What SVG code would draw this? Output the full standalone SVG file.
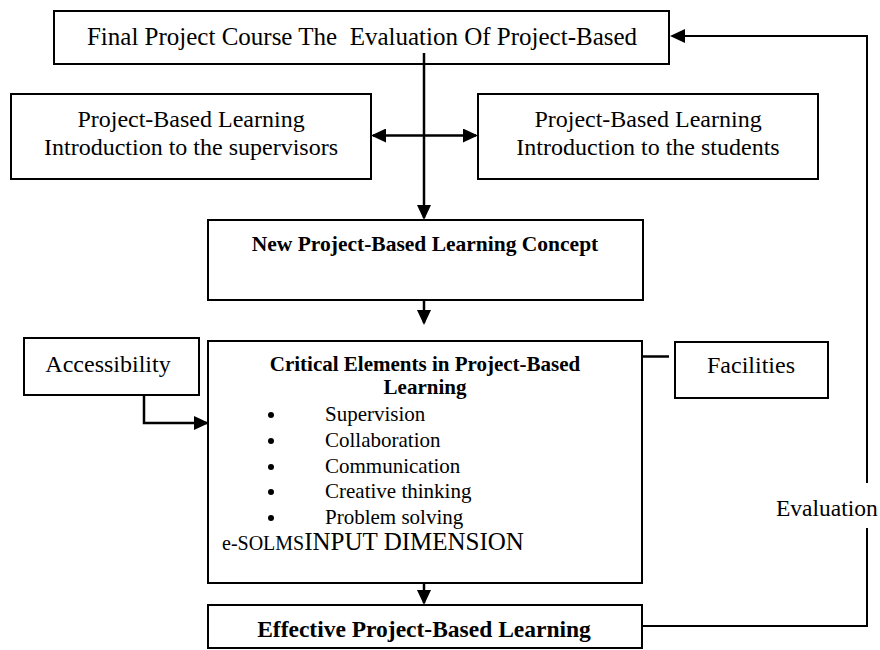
<svg xmlns="http://www.w3.org/2000/svg" width="880" height="650" viewBox="0 0 880 650">
  <defs>
    <marker id="head" viewBox="0 0 15 14" markerWidth="15" markerHeight="14" refX="13" refY="7" orient="auto-start-reverse" markerUnits="userSpaceOnUse">
      <path d="M0,0 L15,7 L0,14 Z" fill="#000"/>
    </marker>
  </defs>
  <style>
    .box { fill: #fff; stroke: #000; stroke-width: 2; }
    .t { font-family: "Liberation Serif", "Times New Roman", serif; fill: #000; }
    .c { text-anchor: middle; }
    .b { font-weight: bold; }
    .dot { fill: #000; }
    .link { fill: none; stroke: #000; stroke-width: 2.5; }
    .fb { fill: none; stroke: #000; stroke-width: 2; }
  </style>
  <rect width="880" height="650" fill="#fff"/>

  <g id="final-course">
    <rect class="box" x="54" y="11" width="615" height="53"/>
    <text class="t c" x="362" y="45" font-size="25" xml:space="preserve">Final Project Course The  Evaluation Of Project-Based</text>
  </g>

  <g id="intro-supervisors">
    <rect class="box" x="11" y="94" width="360" height="85"/>
    <text class="t c" x="191" y="127" font-size="24">Project-Based Learning</text>
    <text class="t c" x="191" y="155" font-size="24">Introduction to the supervisors</text>
  </g>

  <g id="intro-students">
    <rect class="box" x="478" y="94" width="340" height="85"/>
    <text class="t c" x="648" y="127" font-size="24">Project-Based Learning</text>
    <text class="t c" x="648" y="155" font-size="24">Introduction to the students</text>
  </g>

  <g id="new-concept">
    <rect class="box" x="208" y="220" width="435" height="80"/>
    <text class="t c b" x="425" y="251" font-size="21.5">New Project-Based Learning Concept</text>
  </g>

  <g id="accessibility">
    <rect class="box" x="24" y="338" width="175" height="57"/>
    <text class="t c" x="108" y="372" font-size="24">Accessibility</text>
  </g>

  <g id="critical-elements">
    <rect class="box" x="208" y="341" width="434" height="242"/>
    <text class="t c b" x="425" y="371" font-size="21">Critical Elements in Project-Based</text>
    <text class="t c b" x="425" y="394" font-size="21">Learning</text>
    <!-- bullet list -->
    <circle class="dot" cx="271" cy="415" r="3"/>
    <circle class="dot" cx="271" cy="441" r="3"/>
    <circle class="dot" cx="271" cy="467" r="3"/>
    <circle class="dot" cx="271" cy="492" r="3"/>
    <circle class="dot" cx="271" cy="518" r="3"/>
    <g font-size="21" class="t">
      <text x="325" y="421">Supervision</text>
      <text x="325" y="447">Collaboration</text>
      <text x="325" y="473">Communication</text>
      <text x="325" y="498">Creative thinking</text>
      <text x="325" y="524">Problem solving</text>
    </g>
    <text class="t" x="222" y="550" font-size="20">e-SOLMS<tspan font-size="25">INPUT DIMENSION</tspan></text>
  </g>

  <g id="facilities">
    <rect class="box" x="675" y="342" width="153" height="56"/>
    <text class="t c" x="751" y="373" font-size="24">Facilities</text>
  </g>

  <g id="effective-learning">
    <rect class="box" x="208" y="605" width="434" height="43"/>
    <text class="t c b" x="424" y="637" font-size="23.5">Effective Project-Based Learning</text>
  </g>

  <g id="connectors">
    <!-- main spine from the course box down to the new concept -->
    <path class="link" d="M424,53 V218" marker-end="url(#head)"/>
    <!-- two-way link between the introduction boxes -->
    <path class="link" d="M373,135.5 H476" marker-start="url(#head)" marker-end="url(#head)"/>
    <path class="link" d="M424,300 V323" marker-end="url(#head)"/>
    <path class="link" d="M424,583 V603" marker-end="url(#head)"/>
    <!-- accessibility feeds the critical elements -->
    <path class="link" d="M144,395 V423 H207" marker-end="url(#head)"/>
    <!-- stub towards facilities -->
    <path class="link" d="M642,356.5 H669"/>
    <!-- evaluation feedback loop -->
    <path class="fb" d="M643,626 H867 V528"/>
    <path class="fb" d="M867,483 V36 H672" marker-end="url(#head)"/>
    <text class="t" x="776" y="516" font-size="23.5">Evaluation</text>
  </g>
</svg>
